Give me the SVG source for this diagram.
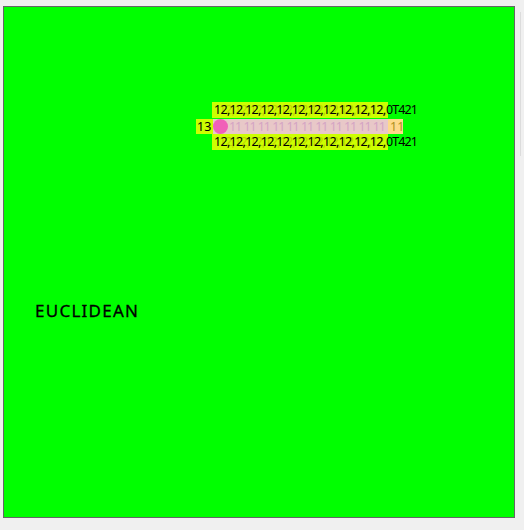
<svg xmlns="http://www.w3.org/2000/svg" width="524" height="530" viewBox="0 0 524 530">
<style>
.t{font-family:"Noto Sans","Liberation Sans",sans-serif;font-size:12.5px;fill:#000}
.f{font-family:"Noto Sans","Liberation Sans",sans-serif;font-size:12.5px;fill:#b8a800;opacity:0.5}
.p{font-family:"Noto Sans","Liberation Sans",sans-serif;font-size:12.5px;fill:#d4a4c4}
</style>
<rect x="0" y="0" width="524" height="530" fill="#f0f0f0"/>
<line x1="520.5" y1="12" x2="520.5" y2="156" stroke="#dcdcdc" stroke-width="1"/>
<g id="canvas">
<rect x="3.5" y="6.5" width="511" height="511" fill="#00ff00" stroke="#666666" stroke-width="1"/>
</g>
<g id="label-euclidean">
<text x="35" y="317" font-family="'Noto Sans','DejaVu Sans',sans-serif" font-size="17" textLength="103" fill="#000" stroke="#000" stroke-width="0.3">EUCLIDEAN</text>
</g>
<g id="row-top">
<rect x="212" y="102" width="176" height="16" fill="#ccff00"/>
<text class="f" x="219" y="114" textLength="168">12,12,12,12,12,12,12,12,12,12,12,</text>
<text class="t" x="214" y="114" textLength="172">12,12,12,12,12,12,12,12,12,12,12,</text>
<text class="t" x="386" y="114" textLength="32">0T421</text>
</g>
<g id="row-middle">
<rect x="196" y="119" width="17" height="15" fill="#ccff00"/>
<text class="t" x="197" y="131">13</text>
<rect x="213" y="119" width="175" height="15" fill="#e8c8c8"/>
<circle cx="220.5" cy="126.5" r="7.5" fill="#f060b8"/>
<text class="p" x="229" y="131" textLength="157">11 11 11 11 11 11 11 11 11 11 11</text>
<rect x="388" y="119" width="15" height="15" fill="#ffd88a"/>
<text class="t" x="390" y="131" style="fill:#b09020">11</text>
</g>
<g id="row-bottom">
<rect x="212" y="134" width="176" height="16" fill="#ccff00"/>
<text class="f" x="219" y="146" textLength="168">12,12,12,12,12,12,12,12,12,12,12,</text>
<text class="t" x="214" y="146" textLength="172">12,12,12,12,12,12,12,12,12,12,12,</text>
<text class="t" x="386" y="146" textLength="32">0T421</text>
</g>
<g id="connectors"></g>
</svg>
